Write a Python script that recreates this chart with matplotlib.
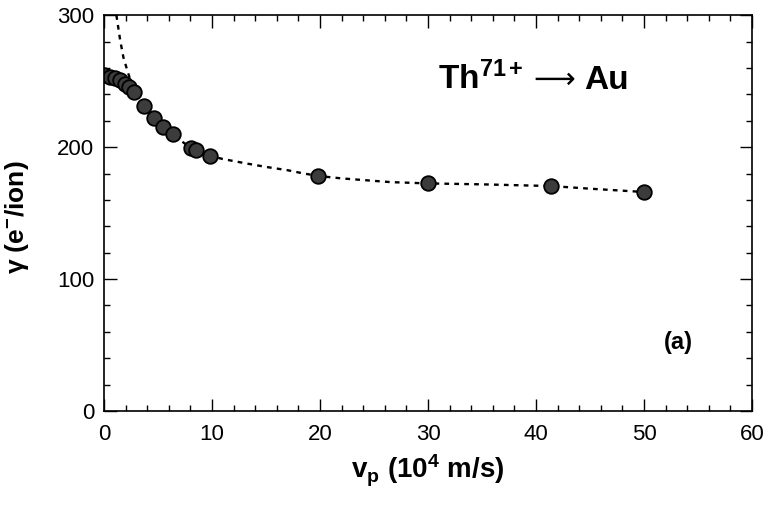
import matplotlib.pyplot as plt
from matplotlib.ticker import MultipleLocator

# measured electron yield vs projectile velocity
vp = [0, 0.55, 1.0, 1.5, 1.95, 2.3, 2.8, 3.7, 4.65, 5.5, 6.35, 8.1, 8.5, 9.8,
      19.8, 30, 41.4, 50]
gamma = [254.5, 253, 252, 250.8, 248.2, 245.5, 241.4, 231.3, 221.7, 215.4,
         209.6, 199, 197.8, 193.4, 177.8, 172.5, 170.7, 166.2]

# dotted fit curve, read along its length
fit_vp = [1.15, 1.5, 1.8, 2.2, 2.6, 3.7, 4.7, 5.5, 6.4, 8.3, 10, 11, 13.2, 15,
          17, 18.5, 20, 22, 26.5, 30, 35, 41.4, 45, 50]
fit_gamma = [300, 281, 268, 257, 247, 231, 222, 215, 209, 198, 193, 191,
             187.6, 185, 182.5, 180, 178, 176.3, 173.5, 172.5, 171.8, 170.5,
             168.5, 166]

plt.rcParams['font.family'] = ['Liberation Sans', 'DejaVu Sans']
plt.rcParams['mathtext.fontset'] = 'custom'
plt.rcParams['mathtext.rm'] = 'Liberation Sans'
plt.rcParams['mathtext.it'] = 'Liberation Sans:italic'
plt.rcParams['mathtext.bf'] = 'Liberation Sans:bold'

fig = plt.figure(figsize=(7.69, 5.05), dpi=100)
ax = fig.add_axes([0.1352, 0.186, 0.8428, 0.784])

ax.plot(fit_vp, fit_gamma, color='black', linestyle=(0, (2, 2.2)), linewidth=1.7)
ax.plot(vp, gamma, linestyle='none', marker='o', markersize=10.5,
        markerfacecolor='#3c3c3c', markeredgecolor='black', markeredgewidth=1.3)

ax.set_xlim(0, 60)
ax.set_ylim(0, 300)
ax.xaxis.set_major_locator(MultipleLocator(10))
ax.xaxis.set_minor_locator(MultipleLocator(2))
ax.yaxis.set_major_locator(MultipleLocator(100))
ax.yaxis.set_minor_locator(MultipleLocator(20))
ax.tick_params(which='both', direction='in', top=True, right=True,
               labelsize=16, width=1)
ax.tick_params(which='major', length=9)
ax.tick_params(axis='x', which='major', pad=9)
ax.tick_params(axis='y', which='major', pad=7)
ax.tick_params(which='minor', length=4.5)
for s in ax.spines.values():
    s.set_linewidth(1.2)

ax.set_xlabel(r'$\mathbf{v_p\ (10^4\ m/s)}$', fontsize=20, labelpad=6)
ax.set_ylabel(r'$\mathbf{\gamma\ (e^{-}/ion)}$', fontsize=19)
ax.yaxis.set_label_coords(-0.112, 0.49)

# reaction label: ion, long arrow, target
ax.text(30.9, 244, r'$\mathbf{Th^{71+}}$', fontsize=24, ha='left', va='baseline')
ax.text(41.7, 245, '\u27f6', fontsize=21, family='DejaVu Sans',
        ha='center', va='baseline')
ax.text(44.5, 244, 'Au', fontsize=24, fontweight='bold', ha='left', va='baseline')
ax.text(53.2, 52, '(a)', fontsize=17, fontweight='bold', ha='center', va='center')

fig.savefig('out.png', dpi=100)
